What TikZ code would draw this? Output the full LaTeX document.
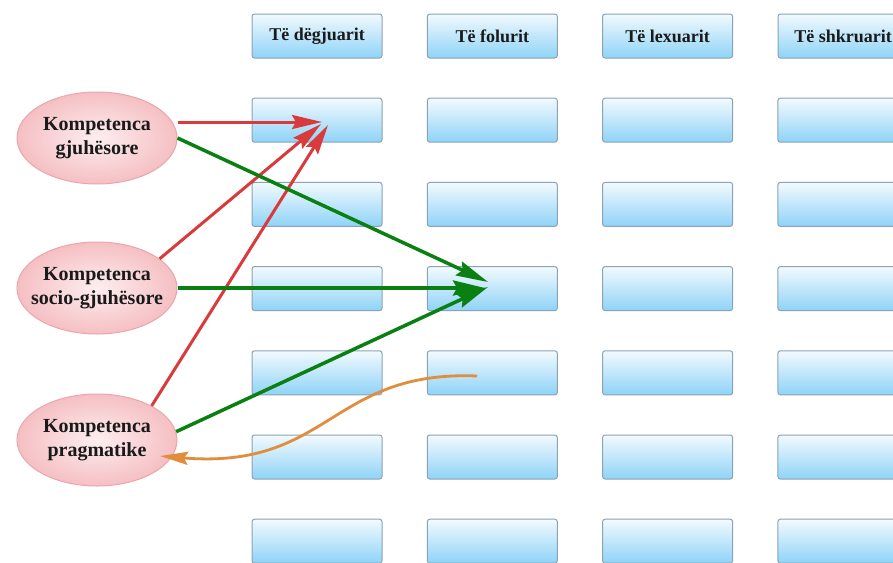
\documentclass[tikz,border=0pt]{standalone}
\usepackage{fontspec}
\setmainfont{Liberation Serif}
\usetikzlibrary{arrows.meta,shapes.geometric,calc}
\definecolor{boxtop}{HTML}{F2FAFE}
\definecolor{boxbot}{HTML}{8FD3F7}
\definecolor{boxline}{HTML}{8AA3B6}
\definecolor{pinkin}{HTML}{FDEEEF}
\definecolor{pinkout}{HTML}{F5BFC3}
\definecolor{pinkline}{HTML}{E9A6AC}
\definecolor{redarr}{HTML}{D93A3C}
\definecolor{greenarr}{HTML}{0A7F12}
\definecolor{orangearr}{HTML}{E08D3C}
\definecolor{txt}{HTML}{1A1A1A}
\tikzset{
  cellbox/.style={draw=boxline, line width=1pt, rounded corners=2.5pt,
    minimum width=130pt, minimum height=44pt, inner sep=0pt,
    top color=boxtop, bottom color=boxbot,
    font=\fontsize{18}{21}\selectfont\bfseries, text=txt},
  compet/.style={ellipse, draw=pinkline, line width=1pt,
    minimum width=160pt, minimum height=92pt, inner xsep=-25pt, inner ysep=0pt,
    inner color=pinkin, outer color=pinkout, align=center,
    font=\fontsize{20}{24}\selectfont\bfseries, text=txt},
  redline/.style={draw=redarr, line width=3pt,
    -{Stealth[length=30pt,width=14pt,inset=4pt]}},
  greenline/.style={draw=greenarr, line width=3.5pt,
    -{Stealth[length=32pt,width=15pt,inset=4pt]}},
  orangeline/.style={draw=orangearr, line width=2.8pt,
    -{Stealth[length=28pt,width=13pt,inset=4pt]}}
}
\begin{document}
\begin{tikzpicture}[x=1pt,y=-1pt]
\useasboundingbox[fill=white] (0,0) rectangle (893,562);
% header boxes
\node[cellbox] (h1) at (317,36) {Të dëgjuarit};
\node[cellbox] (h2) at (492.3,36) {Të folurit};
\node[cellbox] (h3) at (667.6,36) {Të lexuarit};
\node[cellbox] (h4) at (843,36) {Të shkruarit};
% empty boxes
\foreach \c in {1,...,4} {
  \foreach \r in {1,...,6} {
    \node[cellbox] (b\r-\c) at ({317+175.3*(\c-1)},{36+84.2*\r}) {};
  }
}
% competence ellipses
\node[compet] (e1) at (97,138) {Kompetenca\\gjuhësore};
\node[compet] (e2) at (97,288) {Kompetenca\\socio-gjuhësore};
\node[compet] (e3) at (97,440) {Kompetenca\\pragmatike};
% arrow targets
\coordinate (r1) at (322,122);
\coordinate (r2) at (321,124);
\coordinate (r3) at (328,125);
\coordinate (g1) at (488,282);
\coordinate (g2) at (485,288);
\coordinate (g3) at (488,287);
\coordinate (ostart) at (477,376);
\coordinate (otip) at (160,456);
% red arrows
\draw[redline] (r1 -| e1.east) -- (r1);
\draw[redline] (e2.25) -- (r2);
\draw[redline] (e3.32) -- (r3);
% green arrows
\draw[greenline] (e1.east) -- (g1);
\draw[greenline] (e2.east) -- (g2);
\draw[greenline] (e3.6) -- (g3);
% orange curve
\draw[orangeline] (ostart) .. controls (330,370) and (330,470) .. (otip);
\end{tikzpicture}
\end{document}
